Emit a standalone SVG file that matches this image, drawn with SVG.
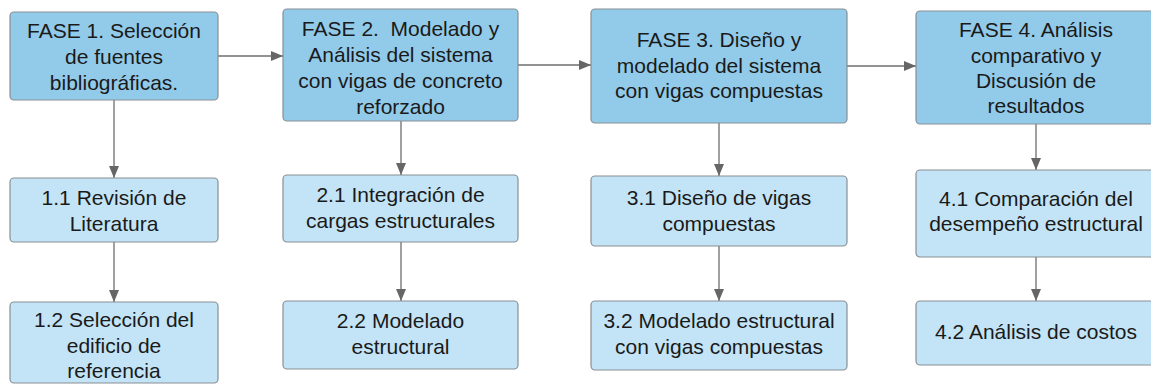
<svg xmlns="http://www.w3.org/2000/svg" width="1151" height="386" viewBox="0 0 1151 386">
<style>
.main{fill:#92cbea;stroke:#8a8f94;stroke-width:1.2}
.sub{fill:#c3e4f6;stroke:#8a8f94;stroke-width:1.2}
text{font-family:"Liberation Sans",Arial,sans-serif;font-size:21px;fill:#1a1a1a;text-anchor:middle}
.c{stroke:#6e6e6e;stroke-width:1.3;fill:none;marker-end:url(#ah)}
</style>
<defs>
<marker id="ah" viewBox="0 0 12 10" refX="12" refY="5" markerWidth="12" markerHeight="10" markerUnits="userSpaceOnUse" orient="auto">
<path d="M0,0 L12,5 L0,10 Z" fill="#666"/>
</marker>
</defs>
<rect width="1151" height="386" fill="#fff"/>
<g id="connectors">
<line class="c" x1="218" y1="56" x2="283" y2="56"/>
<line class="c" x1="518" y1="65" x2="591" y2="65"/>
<line class="c" x1="847" y1="66" x2="916" y2="66"/>
<line class="c" x1="114" y1="100" x2="114" y2="178"/>
<line class="c" x1="114" y1="242" x2="114" y2="302"/>
<line class="c" x1="401" y1="121" x2="401" y2="175"/>
<line class="c" x1="401" y1="242" x2="401" y2="301"/>
<line class="c" x1="719" y1="123" x2="719" y2="176"/>
<line class="c" x1="719" y1="246" x2="719" y2="301"/>
<line class="c" x1="1036" y1="124" x2="1036" y2="170"/>
<line class="c" x1="1036" y1="257" x2="1036" y2="301"/>
</g>
<g id="fase1">
<rect class="main" x="10" y="12" width="208" height="88" rx="4"/>
<text x="114" y="38">FASE 1. Selección</text>
<text x="114" y="64">de fuentes</text>
<text x="114" y="90">bibliográficas.</text>
</g>
<g id="fase2">
<rect class="main" x="283" y="9" width="235" height="112" rx="4"/>
<text x="400.5" y="36" xml:space="preserve">FASE 2.  Modelado y</text>
<text x="400.5" y="62">Análisis del sistema</text>
<text x="400.5" y="88">con vigas de concreto</text>
<text x="400.5" y="114">reforzado</text>
</g>
<g id="fase3">
<rect class="main" x="591" y="9" width="256" height="114" rx="4"/>
<text x="719" y="47">FASE 3. Diseño y</text>
<text x="719" y="73">modelado del sistema</text>
<text x="719" y="98">con vigas compuestas</text>
</g>
<g id="fase4">
<rect class="main" x="916" y="11" width="240" height="113" rx="4"/>
<text x="1036" y="37">FASE 4. Análisis</text>
<text x="1036" y="63">comparativo y</text>
<text x="1036" y="88">Discusión de</text>
<text x="1036" y="113">resultados</text>
</g>
<g id="n11">
<rect class="sub" x="10" y="178" width="208" height="64" rx="4"/>
<text x="114" y="205">1.1 Revisión de</text>
<text x="114" y="231">Literatura</text>
</g>
<g id="n12">
<rect class="sub" x="10" y="302" width="208" height="81" rx="4"/>
<text x="114" y="327">1.2 Selección del</text>
<text x="114" y="353">edificio de</text>
<text x="114" y="378">referencia</text>
</g>
<g id="n21">
<rect class="sub" x="283" y="175" width="235" height="67" rx="4"/>
<text x="400.5" y="202">2.1 Integración de</text>
<text x="400.5" y="228">cargas estructurales</text>
</g>
<g id="n22">
<rect class="sub" x="283" y="301" width="235" height="68" rx="4"/>
<text x="400.5" y="328">2.2 Modelado</text>
<text x="400.5" y="354">estructural</text>
</g>
<g id="n31">
<rect class="sub" x="591" y="176" width="256" height="70" rx="4"/>
<text x="719" y="205">3.1 Diseño de vigas</text>
<text x="719" y="231">compuestas</text>
</g>
<g id="n32">
<rect class="sub" x="591" y="301" width="256" height="69" rx="4"/>
<text x="719" y="328">3.2 Modelado estructural</text>
<text x="719" y="354">con vigas compuestas</text>
</g>
<g id="n41">
<rect class="sub" x="916" y="170" width="240" height="87" rx="4"/>
<text x="1036" y="206">4.1 Comparación del</text>
<text x="1036" y="231">desempeño estructural</text>
</g>
<g id="n42">
<rect class="sub" x="916" y="301" width="240" height="64" rx="4"/>
<text x="1036" y="339">4.2 Análisis de costos</text>
</g>
</svg>
